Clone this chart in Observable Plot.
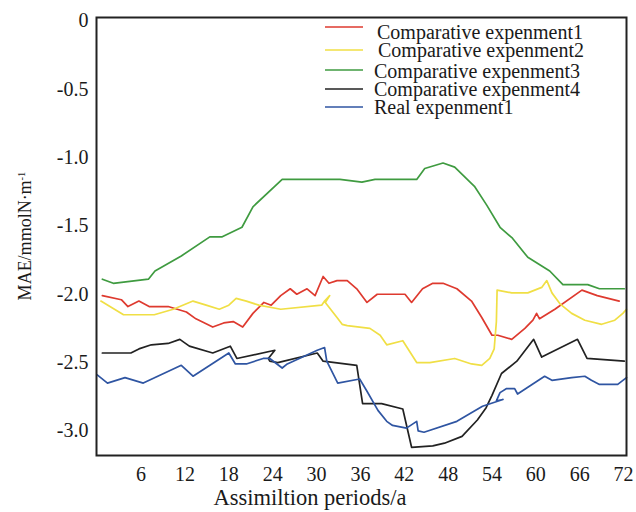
<!DOCTYPE html>
<html><head><meta charset="utf-8">
<script src="https://cdn.jsdelivr.net/npm/d3@7"></script>
<script src="https://cdn.jsdelivr.net/npm/@observablehq/plot@0.6"></script>
<style>body{margin:0;background:#fff}#chart{width:636px;height:512px}
#chart svg, #chart svg text{font-family:"Liberation Serif","DejaVu Serif",serif !important}</style>
</head><body><div id="chart"></div>
<script>
const seriesNames = ["Comparative expenment1","Comparative expenment2","Comparative expenment3","Comparative expenment4","Real expenment1"];
const seriesColors = ["#de3a2f","#f0df45","#3f9b40","#222222","#2f55a2"];
const xTicks = [6,12,18,24,30,36,42,48,54,60,66,72];
const yTicks = [0,-0.5,-1.0,-1.5,-2.0,-2.5,-3.0];
const xTitle = "Assimiltion periods/a";
const yTitleMain = "MAE/mmolN·m";
const yTitleSup = "-1";

const comp1X = [0.7,3.3,4.2,5.7,7.1,9.7,12.2,13.5,15.8,17.3,18.6,19.9,21.3,22.8,23.8,25.1,26.4,27.3,28.7,29.8,30.9,31.7,32.8,34.2,35.5,36.9,38.3,42.1,43.0,44.5,45.9,47.3,49.2,51.2,52.6,54.0,54.8,56.7,58.5,59.6,60.1,60.5,62.6,66.3,68.4,71.4];
const comp1Y = [-2.01,-2.04,-2.09,-2.05,-2.09,-2.09,-2.13,-2.18,-2.24,-2.21,-2.20,-2.24,-2.14,-2.06,-2.08,-2.01,-1.96,-2.00,-1.96,-2.01,-1.87,-1.92,-1.90,-1.90,-1.96,-2.06,-2.00,-2.00,-2.06,-1.96,-1.92,-1.92,-1.96,-2.05,-2.17,-2.30,-2.30,-2.33,-2.25,-2.19,-2.14,-2.18,-2.11,-1.97,-2.01,-2.05];

const comp2X = [0.5,3.6,7.8,10.4,13.1,14.9,16.7,18.0,19.0,20.4,22.1,25.1,30.7,31.1,31.8,31.2,32.8,33.5,34.2,37.3,38.7,39.6,41.8,43.7,45.5,48.9,51.2,52.6,53.7,54.3,54.6,54.7,56.7,58.9,60.8,61.5,62.2,63.3,64.9,66.7,69.0,70.8,71.9,72.4];
const comp2Y = [-2.05,-2.15,-2.15,-2.11,-2.05,-2.08,-2.11,-2.08,-2.03,-2.05,-2.08,-2.11,-2.08,-2.05,-2.01,-2.06,-2.17,-2.22,-2.23,-2.25,-2.30,-2.37,-2.34,-2.50,-2.50,-2.47,-2.51,-2.52,-2.47,-2.40,-2.20,-1.97,-1.99,-1.99,-1.95,-1.90,-1.99,-2.07,-2.14,-2.19,-2.22,-2.19,-2.14,-2.11];

const comp3X = [0.7,2.2,7.0,7.9,11.5,15.4,17.1,19.8,21.3,25.3,33.2,36.2,38.0,43.7,44.8,47.3,48.9,51.6,53.3,55.1,56.8,58.9,61.9,63.7,64.6,67.1,68.7,72.1];
const comp3Y = [-1.89,-1.92,-1.89,-1.83,-1.72,-1.58,-1.58,-1.51,-1.36,-1.16,-1.16,-1.18,-1.16,-1.16,-1.08,-1.04,-1.07,-1.21,-1.35,-1.51,-1.59,-1.73,-1.83,-1.93,-1.93,-1.93,-1.96,-1.96];

const comp4X = [0.7,4.6,5.7,7.4,9.7,11.3,12.6,15.8,18.2,19.1,24.3,23.4,23.6,24.7,30.1,30.9,35.5,36.3,38.9,41.8,43.0,45.9,47.5,49.9,52.0,53.2,54.0,55.3,57.4,59.7,60.8,65.7,67.0,72.1];
const comp4Y = [-2.43,-2.43,-2.40,-2.37,-2.36,-2.33,-2.38,-2.43,-2.38,-2.47,-2.41,-2.47,-2.49,-2.50,-2.43,-2.49,-2.52,-2.80,-2.80,-2.84,-3.12,-3.11,-3.09,-3.04,-2.92,-2.83,-2.74,-2.58,-2.49,-2.33,-2.46,-2.33,-2.47,-2.49];

const realX = [0.0,1.4,3.8,6.3,11.5,13.1,18.0,18.9,20.4,22.7,23.6,25.3,26.0,30.1,31.1,31.4,32.9,35.9,36.9,38.4,39.6,40.4,42.3,43.7,43.9,44.7,49.2,52.7,55.5,54.6,55.1,56.0,57.1,57.5,61.2,62.2,64.9,66.7,67.6,68.7,71.2,72.4];
const realY = [-2.59,-2.65,-2.61,-2.65,-2.52,-2.60,-2.43,-2.51,-2.51,-2.47,-2.47,-2.54,-2.51,-2.41,-2.39,-2.49,-2.65,-2.62,-2.71,-2.85,-2.93,-2.96,-2.98,-2.93,-3.00,-3.01,-2.93,-2.82,-2.77,-2.78,-2.72,-2.69,-2.69,-2.73,-2.60,-2.63,-2.61,-2.60,-2.63,-2.66,-2.66,-2.61];

const allX = [comp1X, comp2X, comp3X, comp4X, realX];
const allY = [comp1Y, comp2Y, comp3Y, comp4Y, realY];
const rows = [];
seriesNames.forEach((name, i) => {
  allX[i].forEach((x, j) => rows.push({series: name, x, y: allY[i][j]}));
});

const font = "Liberation Serif, DejaVu Serif, serif";
const plot = Plot.plot({
  width: 636, height: 512,
  marginLeft: 96, marginRight: 10, marginTop: 17, marginBottom: 57,
  style: {fontFamily: font, fontSize: "20px", color: "#1a1a1a", background: "white", overflow: "visible"},
  x: {domain: [-0.1, 72.4], ticks: xTicks, tickSize: 0, tickPadding: 11, label: null, tickFormat: d => String(d)},
  y: {domain: [-3.18, 0.025], ticks: yTicks, tickSize: 0, tickPadding: 8, label: null,
      tickFormat: d => d === 0 ? "0" : d.toFixed(1)},
  color: {domain: seriesNames, range: seriesColors},
  marks: [
    Plot.line(rows, {x: "x", y: "y", z: "series", stroke: "series", strokeWidth: 1.7, strokeLinejoin: "round"}),
    Plot.frame({stroke: "#222", strokeWidth: 2})
  ]
});

const svg = d3.select(plot);
svg.append("text").attr("x", 310).attr("y", 497).attr("dy", "0.35em")
  .attr("text-anchor", "middle").attr("font-family", font).attr("font-size", 22.5).attr("fill", "#1a1a1a")
  .text(xTitle);
const yt = svg.append("text").attr("transform", "translate(25,236) rotate(-90)").attr("dy", "0.35em")
  .attr("text-anchor", "middle").attr("font-family", font).attr("font-size", 18).attr("fill", "#1a1a1a");
yt.append("tspan").text(yTitleMain);
yt.append("tspan").attr("dy", "-0.6em").attr("font-size", 10.5).text(yTitleSup);

const legLineY = [27, 50, 70, 89, 107];
const legTextY = [32, 50, 71, 89, 107];
const legTextX = [377, 378, 374, 374, 374];
const leg = svg.append("g").attr("text-anchor", "start");
seriesNames.forEach((name, i) => {
  leg.append("line").attr("x1", 325).attr("x2", 363).attr("y1", legLineY[i]).attr("y2", legLineY[i])
    .attr("stroke", seriesColors[i]).attr("stroke-width", 1.6);
  leg.append("text").attr("x", legTextX[i]).attr("y", legTextY[i]).attr("dy", "0.35em")
    .attr("text-anchor", "start")
    .attr("font-family", font).attr("font-size", 20).attr("fill", "#1a1a1a").text(name);
});

document.getElementById("chart").appendChild(plot);
</script>
</body></html>
